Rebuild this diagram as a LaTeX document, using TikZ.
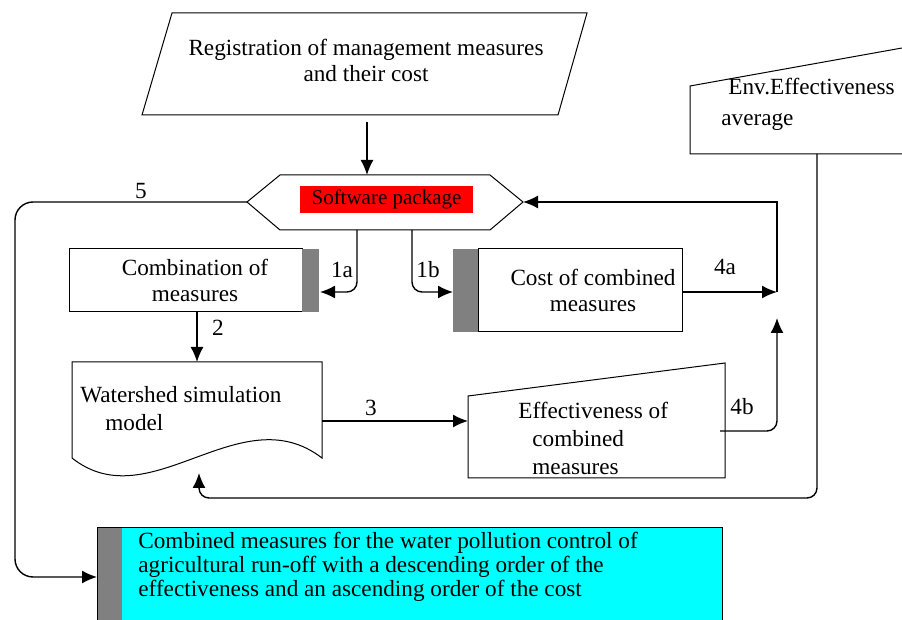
\documentclass[tikz,border=0pt]{standalone}
\usepackage{fontspec}
\setmainfont{Liberation Serif}
\usetikzlibrary{arrows.meta}
\definecolor{resultcyan}{RGB}{0,255,255}
\definecolor{bargray}{RGB}{128,128,128}

\begin{document}
\begin{tikzpicture}[x=0.5pt,y=-0.5pt,>={Latex[length=7.5pt,width=6.5pt]},
  every node/.style={font=\fontsize{11.6}{13}\selectfont,inner sep=0pt},
  box/.style={draw,line width=0.5pt},
  bar/.style={fill=bargray},
  flow/.style={->,line width=0.7pt,rounded corners=5pt}]
  \useasboundingbox (0,0) rectangle (902,620);

  % input of measures
  \draw[box] (172,13) -- (587,13) -- (558,115) -- (142,115) -- cycle;
  \node[align=center] (reg) at (366,60) {Registration of management measures\\and their cost};
  \coordinate (reg-s) at (367,122);

  % software package
  \draw[box] (247,202) -- (280,175) -- (490,175) -- (523,202) -- (490,230) -- (280,230) -- cycle;
  \node[fill=red,minimum width=86.5pt,minimum height=13.5pt,font=\fontsize{10.5}{12}\selectfont] (soft) at (386.5,199.5) {Software package};
  \coordinate (soft-n) at (367,175);
  \coordinate (soft-w) at (247,202);
  \coordinate (soft-e) at (523,202);
  \coordinate (soft-s1) at (357,230);
  \coordinate (soft-s2) at (412,230);

  % combination
  \draw[box] (69,249) rectangle (302,312);
  \fill[bar] (302,249) rectangle (319,312);
  \node[align=center] (comb) at (195,280) {Combination of\\measures};
  \coordinate (comb-e) at (320,292);
  \coordinate (comb-s) at (197,312);

  % cost
  \fill[bar] (453,249) rectangle (478,332);
  \draw[box] (478,249) rectangle (682,332);
  \node[align=center] (cost) at (593,290) {Cost of combined\\measures};
  \coordinate (cost-w) at (453,292);
  \coordinate (cost-e) at (682,292);

  % watershed model
  \draw[box] (72,458) -- (72,362) -- (322,362) -- (322,458) .. controls (240,395) and (150,520) .. (72,458) -- cycle;
  \node[align=left,anchor=west,font=\fontsize{11.6}{14}\selectfont] (shed) at (80,409) {Watershed simulation\\\hspace*{12.5pt}model};
  \coordinate (shed-n) at (197,362);
  \coordinate (shed-e) at (322,421);
  \coordinate (shed-s) at (199,473);

  % effectiveness
  \draw[box] (468,396) -- (725,363) -- (725,478) -- (468,478) -- cycle;
  \node[align=left,anchor=west,font=\fontsize{11.6}{14}\selectfont] (eff) at (518,438) {Effectiveness of\\\hspace*{7pt}combined\\\hspace*{7pt}measures};
  \coordinate (eff-w) at (468,421);
  \coordinate (eff-e) at (720,431);

  % average
  \draw[box] (902,48) -- (690,86) -- (690,154) -- (902,154);
  \node[align=left,anchor=west,font=\fontsize{11.6}{15.5}\selectfont] (env) at (721,104.5) {\hspace*{3.5pt}Env.Effectiveness\\average};
  \coordinate (env-s) at (817,154);

  % result
  \fill[resultcyan] (122,528) rectangle (722,620);
  \fill[bar] (97,528) rectangle (122,620);
  \draw[box] (97,620) -- (97,528) -- (722,528) -- (722,620);
  \node[align=left,anchor=west,font=\fontsize{11.6}{12}\selectfont] (res) at (138,567) {Combined measures for the water pollution control of\\agricultural run-off with a descending order of the\\effectiveness and an ascending order of the cost};
  \coordinate (res-w) at (97,577);

  \coordinate (jn) at (777,292);
  \coordinate (jn-b) at (777,318);
  \coordinate (back) at (15,577);
  \coordinate (low) at (817,498);

  % connectors
  \draw[flow] (reg-s) -- (soft-n);
  \draw[flow] (soft-s1) |- (comb-e);
  \draw[flow] (soft-s2) |- (cost-w);
  \draw[flow] (cost-e) -- (jn);
  \draw[flow] (eff-e) -| (jn-b);
  \draw[flow,sharp corners] (jn) |- (soft-e);
  \draw[flow] (comb-s) -- (shed-n);
  \draw[flow] (shed-e) -- (eff-w);
  \draw[flow] (env-s) -- (low) -| (shed-s);
  \draw[flow,rounded corners=9pt] (soft-w) -| (back) -- (res-w);

  % labels
  \node (l1a) at (342,270) {1a};
  \node (l1b) at (428,270) {1b};
  \node (l2) at (218,328) {2};
  \node (l3) at (371,408) {3};
  \node (l4a) at (725,267) {4a};
  \node (l4b) at (742,407) {4b};
  \node (l5) at (141,191) {5};
\end{tikzpicture}
\end{document}
